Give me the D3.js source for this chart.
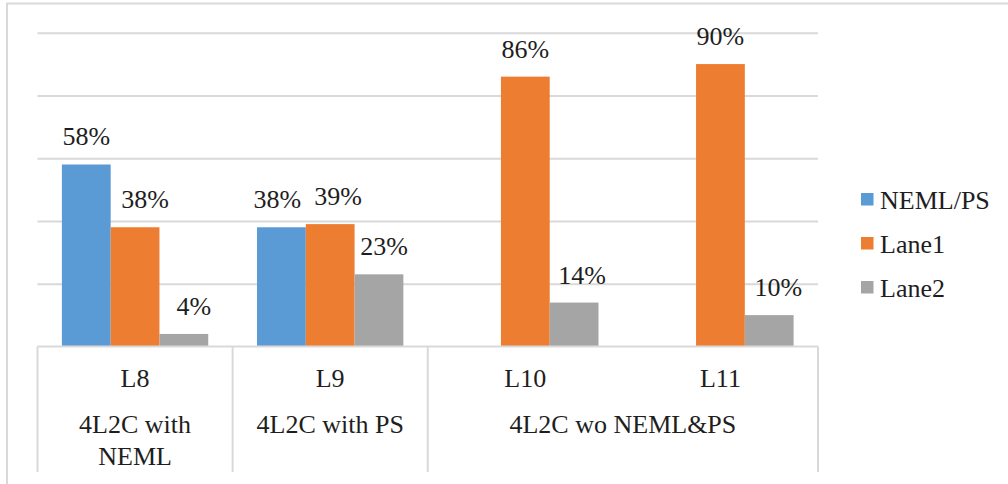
<!DOCTYPE html>
<html>
<head>
<meta charset="utf-8">
<script src="https://cdn.jsdelivr.net/npm/d3@7/dist/d3.min.js"></script>
</head>
<body style="margin:0">
<svg id="fig" width="1008" height="484"></svg>
<script>
// Categories (first axis level) and their grouping (second axis level)
const categories = ["L8", "L9", "L10", "L11"];
const groupNames = ["4L2C with NEML", "4L2C with PS", "4L2C wo NEML&PS"];
const groupSpans = [1, 1, 2];

// Series
const seriesNames = ["NEML/PS", "Lane1", "Lane2"];
const nemlPs = [58, 38, null, null];
const lane1 = [38, 39, 86, 90];
const lane2 = [4, 23, 14, 10];
const seriesValues = [nemlPs, lane1, lane2];

// Value axis gridline ticks (percent)
const yTicks = [0, 20, 40, 60, 80, 100];

const colors = ["#5B9BD5", "#ED7D31", "#A5A5A5"];
const fontName = "'Liberation Serif', 'Times New Roman', Tinos, serif";

// Hand-placed horizontal nudges for some data labels
const labelNudge = {
  "L8|Lane1": 10, "L8|Lane2": 10,
  "L9|NEML/PS": -4, "L9|Lane1": 8, "L9|Lane2": 5,
  "L10|Lane2": 8, "L11|Lane2": 9
};

const svg = d3.select("#fig");
const plotLeft = 37.5, plotRight = 818, plotTop = 32.7, plotBottom = 346.5;

// Chart frame (top and left edges)
svg.append("path")
  .attr("d", "M7,484 V3.5 H1008")
  .attr("fill", "none")
  .attr("stroke", "#d9d9d9")
  .attr("stroke-width", 2);

const x0 = d3.scaleBand().domain(categories).range([plotLeft, plotRight]).padding(0);
const x1 = d3.scaleBand().domain(seriesNames).range([0, x0.bandwidth()])
  .paddingInner(0).paddingOuter(0.5);
const y = d3.scaleLinear().domain([0, 100]).range([plotBottom, plotTop]);

// Gridlines
const grid = svg.append("g")
  .attr("transform", `translate(${plotLeft},0)`)
  .call(d3.axisLeft(y).tickValues(yTicks.filter(t => t > 0))
    .tickSize(-(plotRight - plotLeft)).tickFormat(""));
grid.select(".domain").remove();
grid.selectAll(".tick line").attr("stroke", "#d9d9d9").attr("stroke-width", 2);

// Bars
const rows = [];
categories.forEach((c, i) => {
  seriesNames.forEach((s, j) => {
    const v = seriesValues[j][i];
    if (v != null) rows.push({ cat: c, series: s, idx: j, value: v });
  });
});

svg.append("g").selectAll("rect")
  .data(rows)
  .join("rect")
  .attr("x", d => x0(d.cat) + x1(d.series))
  .attr("y", d => y(d.value))
  .attr("width", x1.bandwidth())
  .attr("height", d => y(0) - y(d.value))
  .attr("fill", d => colors[d.idx]);

// Shared text styling
function styleText(sel) {
  return sel
    .attr("font-family", fontName)
    .style("font-family", fontName, "important")
    .attr("font-size", 26)
    .attr("fill", "#1e1e1e");
}

// Data labels
svg.append("g").selectAll("text")
  .data(rows)
  .join("text")
  .call(styleText)
  .attr("x", d => x0(d.cat) + x1(d.series) + x1.bandwidth() / 2 + (labelNudge[d.cat + "|" + d.series] || 0))
  .attr("y", d => y(d.value) - 19)
  .attr("text-anchor", "middle")
  .text(d => d.value + "%");

// Category axis: baseline and dividers
const axis = svg.append("g");
axis.append("line")
  .attr("x1", plotLeft).attr("x2", plotRight)
  .attr("y1", plotBottom).attr("y2", plotBottom)
  .attr("stroke", "#d9d9d9").attr("stroke-width", 2);

const boundaries = [plotLeft];
let acc = 0;
groupSpans.forEach(n => {
  acc += n;
  boundaries.push(acc < categories.length ? x0(categories[acc]) : plotRight);
});
axis.selectAll("line.div")
  .data(boundaries)
  .join("line")
  .attr("class", "div")
  .attr("x1", d => d).attr("x2", d => d)
  .attr("y1", plotBottom).attr("y2", 472)
  .attr("stroke", "#d9d9d9").attr("stroke-width", 2);

// First level labels
axis.selectAll("text.cat")
  .data(categories)
  .join("text")
  .attr("class", "cat")
  .call(styleText)
  .attr("x", d => x0(d) + x0.bandwidth() / 2)
  .attr("y", 387)
  .attr("text-anchor", "middle")
  .text(d => d);

// Second level labels (wrapped to the group width)
const groupData = groupNames.map((g, i) => ({
  name: g,
  x: (boundaries[i] + boundaries[i + 1]) / 2,
  w: boundaries[i + 1] - boundaries[i]
}));
const gl = axis.selectAll("text.grp")
  .data(groupData)
  .join("text")
  .attr("class", "grp")
  .call(styleText)
  .attr("text-anchor", "middle")
  .attr("y", 433);

gl.each(function (d) {
  const t = d3.select(this);
  const words = d.name.split(" ");
  let line = [];
  let tspan = t.append("tspan").attr("x", d.x).attr("dy", 0);
  words.forEach(w => {
    line.push(w);
    tspan.text(line.join(" "));
    if (tspan.node().getComputedTextLength() > d.w - 40 && line.length > 1) {
      line.pop();
      tspan.text(line.join(" "));
      line = [w];
      tspan = t.append("tspan").attr("x", d.x).attr("dy", 32).text(w);
    }
  });
});

// Legend
const legend = svg.append("g");
const legendRows = legend.selectAll("g")
  .data(seriesNames)
  .join("g")
  .attr("transform", (d, i) => `translate(861,${209 + i * 44})`);
legendRows.append("rect")
  .attr("x", 0).attr("y", -16)
  .attr("width", 12.5).attr("height", 12.5)
  .attr("fill", (d, i) => colors[i]);
legendRows.append("text")
  .call(styleText)
  .attr("x", 19).attr("y", 0)
  .text(d => d);
</script>
</body>
</html>
